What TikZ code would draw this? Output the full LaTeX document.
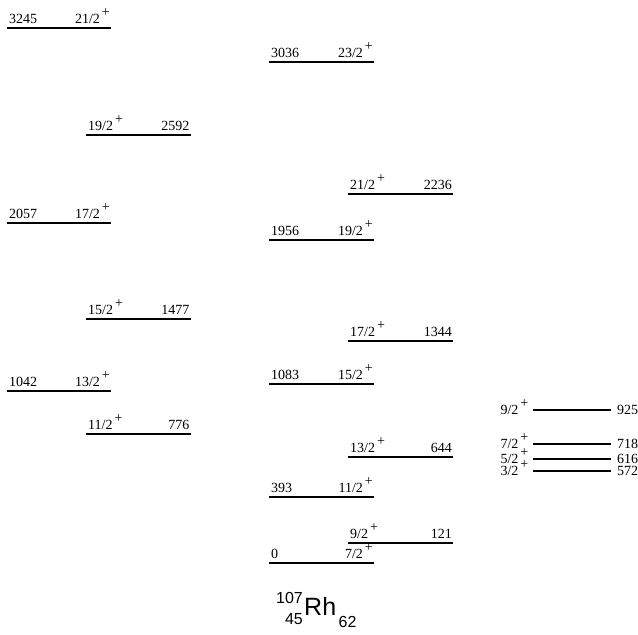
\documentclass[tikz,border=0pt]{standalone}
\usepackage{fontspec}
\setmainfont{Liberation Serif}
\newfontfamily\rhfont{Liberation Sans}
\newcommand\spinp[1]{#1\kern2pt\raisebox{6.8pt}{+}}
\newcommand\lev[6]{%
  \draw[lvl] (#2,#4) coordinate (#1a) -- (#3,#4) coordinate (#1b);
  \node[lab,anchor=base west] (#1l) at ([shift={(2,-4.3)}]#1a) {#5};
  \node[lab,anchor=base east] (#1r) at ([shift={(-1,-4.3)}]#1b) {#6};}
\newcommand\rlev[4]{%
  \draw[lvl] (533,#2) coordinate (#1a) -- (611,#2) coordinate (#1b);
  \node[lab,anchor=base east] (#1l) at ([shift={(-4.5,4.5)}]#1a) {#3};
  \node[lab,anchor=base west] (#1r) at ([shift={(6,4.5)}]#1b) {#4};}
\begin{document}
\begin{tikzpicture}[x=1pt,y=-1pt,
  lvl/.style={line width=1.6pt},
  lab/.style={inner sep=0pt,font=\fontsize{14}{16}\selectfont}]
\useasboundingbox (0,0) rectangle (638,635);
% column A
\lev{a3245}{7}{111}{28}{3245}{\spinp{21/2}}
\lev{a2057}{7}{111}{223}{2057}{\spinp{17/2}}
\lev{a1042}{7}{111}{391}{1042}{\spinp{13/2}}
% column B
\lev{b2592}{86}{190.5}{135}{\spinp{19/2}}{2592}
\lev{b1477}{86}{190.5}{319}{\spinp{15/2}}{1477}
\lev{b776}{86}{190.5}{434}{\spinp{11/2}}{776}
% column C
\lev{c3036}{269}{374}{62}{3036}{\spinp{23/2}}
\lev{c1956}{269}{374}{240}{1956}{\spinp{19/2}}
\lev{c1083}{269}{374}{384}{1083}{\spinp{15/2}}
\lev{c393}{269}{374}{497}{393}{\spinp{11/2}}
\lev{c0}{269}{374}{563}{0}{\spinp{7/2}}
% column D
\lev{d2236}{348}{453}{194}{\spinp{21/2}}{2236}
\lev{d1344}{348}{453}{341}{\spinp{17/2}}{1344}
\lev{d644}{348}{453}{457}{\spinp{13/2}}{644}
\lev{d121}{348}{453}{543}{\spinp{9/2}}{121}
% right column
\rlev{e925}{410}{\spinp{9/2}}{925}
\rlev{e718}{444}{\spinp{7/2}}{718}
\rlev{e616}{459}{\spinp{5/2}}{616}
\rlev{e572}{471}{\spinp{3/2}}{572}
% nucleus label
\node[inner sep=0pt,anchor=base east,font=\rhfont\fontsize{16}{16}\selectfont] (mass) at (303,603) {107};
\node[inner sep=0pt,anchor=base east,font=\rhfont\fontsize{16}{16}\selectfont] (zz) at (303,624) {45};
\node[inner sep=0pt,anchor=base west,font=\rhfont\fontsize{25}{25}\selectfont] (rh) at (304,615.5) {Rh};
\node[inner sep=0pt,anchor=base west,font=\rhfont\fontsize{16}{16}\selectfont] (nn) at (338.5,627) {62};
\end{tikzpicture}
\end{document}
